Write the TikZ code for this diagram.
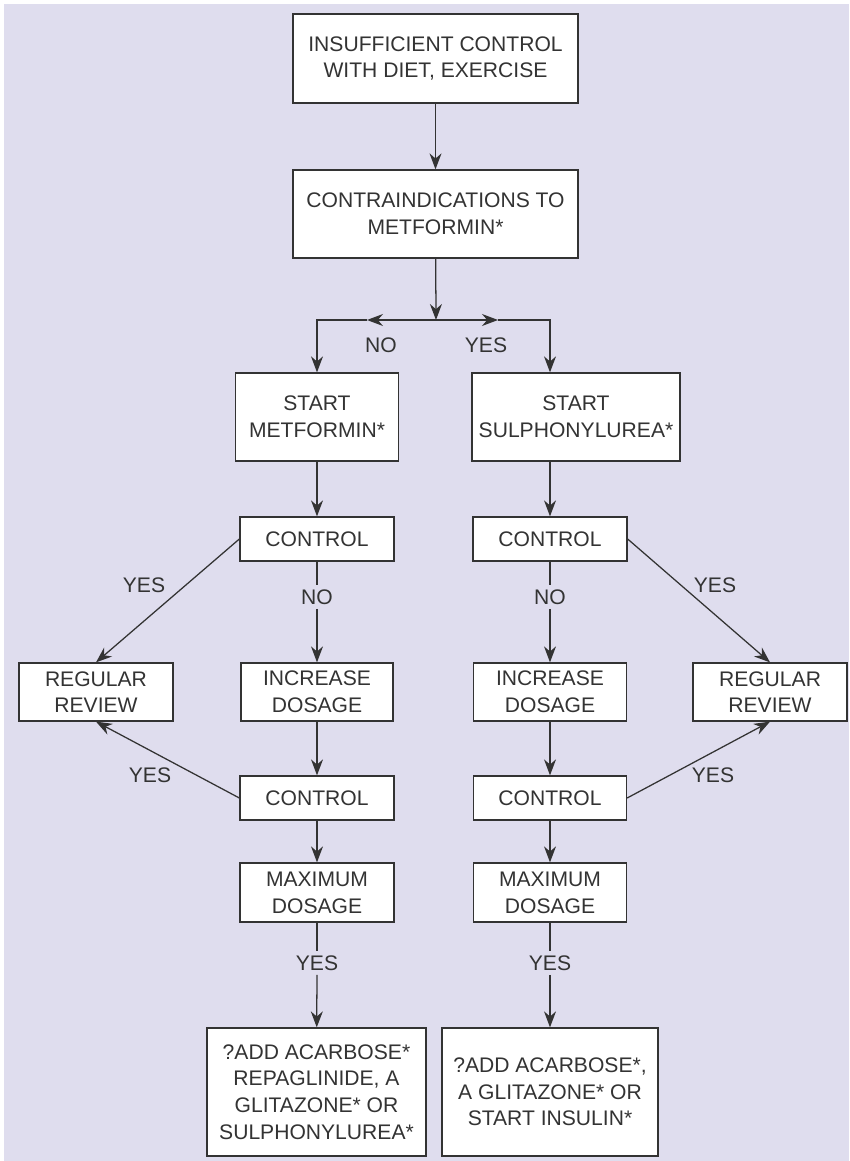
\documentclass[tikz,border=0pt]{standalone}
\usepackage{fontspec}
\setmainfont{Liberation Sans}
\usetikzlibrary{arrows.meta}
\definecolor{bglilac}{HTML}{DFDDEE}
\definecolor{ink}{HTML}{333333}

\begin{document}
\begin{tikzpicture}[x=0.025cm, y=-0.025cm,
  font=\fontsize{15}{19}\selectfont,
  box/.style={draw=ink, fill=white, line width=0.9pt, text=ink, align=center, inner sep=0pt},
  lbl/.style={text=ink, inner sep=3pt},
  arr/.style={draw=ink, line width=0.9pt, -{Stealth[length=4mm, width=3mm, inset=1.3mm]}},
  plain/.style={draw=ink, line width=0.9pt}]

  % background
  \fill[white] (0,0) rectangle (849,1161);
  \fill[bglilac] (4,4) rectangle (849,1161);
  \useasboundingbox (0,0) rectangle (849,1161);

  \node (diet) [box, minimum width=7.125cm, minimum height=2.225cm] at (435.5,58.5) {INSUFFICIENT CONTROL\\WITH DIET, EXERCISE};
  \node (contra) [box, minimum width=7.125cm, minimum height=2.2cm] at (435.5,214) {CONTRAINDICATIONS TO\\METFORMIN*};

  \node (startM) [box, minimum width=4.075cm, minimum height=2.2cm] at (317,417) {START\\METFORMIN*};
  \node (startS) [box, minimum width=5.2cm, minimum height=2.2cm] at (576,417) {START\\SULPHONYLUREA*};

  \node (ctlA) [box, minimum width=3.85cm, minimum height=1.1cm] at (317,539) {CONTROL};
  \node (ctlB) [box, minimum width=3.85cm, minimum height=1.1cm] at (550,539) {CONTROL};

  \node (revA) [box, minimum width=3.85cm, minimum height=1.45cm] at (96,692) {REGULAR\\REVIEW};
  \node (incA) [box, minimum width=3.8cm, minimum height=1.45cm] at (317,692) {INCREASE\\DOSAGE};
  \node (incB) [box, minimum width=3.825cm, minimum height=1.45cm] at (550,692) {INCREASE\\DOSAGE};
  \node (revB) [box, minimum width=3.85cm, minimum height=1.45cm] at (770,692) {REGULAR\\REVIEW};

  \node (ctl2A) [box, minimum width=3.85cm, minimum height=1.1cm] at (317,798) {CONTROL};
  \node (ctl2B) [box, minimum width=3.825cm, minimum height=1.1cm] at (550,798) {CONTROL};

  \node (maxA) [box, minimum width=3.85cm, minimum height=1.475cm] at (317,892.5) {MAXIMUM\\DOSAGE};
  \node (maxB) [box, minimum width=3.825cm, minimum height=1.475cm] at (550,892.5) {MAXIMUM\\DOSAGE};

  \node (addA) [box, minimum width=5.475cm, minimum height=3.2cm] at (316.5,1092) {?ADD ACARBOSE*\\REPAGLINIDE, A\\GLITAZONE* OR\\SULPHONYLUREA*};
  \node (addB) [box, minimum width=5.4cm, minimum height=3.2cm] at (550,1092) {?ADD ACARBOSE*,\\A GLITAZONE* OR\\START INSULIN*};

  % labels
  \node (no0) [lbl] at (381,345) {NO};
  \node (yes0) [lbl] at (486,345) {YES};
  \node (yesA1) [lbl] at (144,585) {YES};
  \node (noA) [lbl] at (317,597) {NO};
  \node (noB) [lbl] at (550,597) {NO};
  \node (yesB1) [lbl] at (715,585) {YES};
  \node (yesA2) [lbl] at (150,775) {YES};
  \node (yesB2) [lbl] at (713,775) {YES};
  \node (yesA) [lbl] at (317,963) {YES};
  \node (yesB) [lbl] at (550,963) {YES};

  \coordinate (split) at (436,320);
  \coordinate (noTip) at (367,320);
  \coordinate (noTurn) at (317,320);
  \coordinate (yesTip) at (498,320);
  \coordinate (yesTurn) at (550,320);

  \draw[arr] (diet) -- (contra);
  \draw[arr] (contra) -- (split);
  \draw[arr] (split) -- (noTip);
  \draw[arr] (noTip) -- (noTurn) -- (startM);
  \draw[arr] (split) -- (yesTip);
  \draw[arr] (yesTip) -- (yesTurn) -- (yesTurn |- startS.north);

  \draw[arr] (startM) -- (ctlA);
  \draw[arr] (startS.south -| ctlB) -- (ctlB);
  \draw[plain] (ctlA) -- (noA);
  \draw[arr] (noA) -- (incA);
  \draw[plain] (ctlB) -- (noB);
  \draw[arr] (noB) -- (incB);
  \draw[arr] (ctlA.west) -- (revA.north);
  \draw[arr] (ctlB.east) -- (revB.north);

  \draw[arr] (incA) -- (ctl2A);
  \draw[arr] (incB) -- (ctl2B);
  \draw[arr] (ctl2A.west) -- (revA.south);
  \draw[arr] (ctl2B.east) -- (revB.south);
  \draw[arr] (ctl2A) -- (maxA);
  \draw[arr] (ctl2B) -- (maxB);

  \draw[plain] (maxA) -- (yesA);
  \draw[arr] (yesA) -- (addA);
  \draw[plain] (maxB) -- (yesB);
  \draw[arr] (yesB) -- (addB);

\end{tikzpicture}
\end{document}
